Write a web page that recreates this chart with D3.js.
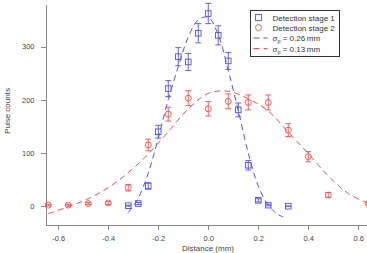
<!DOCTYPE html>
<html>
<head>
<meta charset="utf-8">
<script src="https://cdn.jsdelivr.net/npm/d3@7"></script>
<style>
  body { margin: 0; background: #fff; }
  svg { display: block; font-family: "Liberation Sans", Arial, sans-serif; }
  .axis path, .axis line { stroke: #8a8a8a; shape-rendering: crispEdges; }
  .axis text { fill: #444; font-size: 7.5px; font-family: "Liberation Sans", Arial, sans-serif; }
</style>
</head>
<body>
<svg id="chart" width="367" height="253"></svg>
<script>
// measured points, detection stage 1 (blue squares)
const stage1X = [-0.32, -0.28, -0.24, -0.20, -0.16, -0.12, -0.08, -0.04, 0.00, 0.04, 0.08, 0.12, 0.16, 0.20, 0.24, 0.32];
const stage1Y = [1, 5, 38, 140, 221, 281, 271, 325, 362, 321, 273, 181, 77, 11, 2, 0];
const stage1Err = [1, 2, 6, 12, 15, 17, 16, 18, 19, 18, 16, 13, 9, 3, 1.5, 0];

// measured points, detection stage 2 (red circles)
const stage2X = [-0.64, -0.56, -0.48, -0.40, -0.32, -0.24, -0.16, -0.08, 0.00, 0.08, 0.16, 0.24, 0.32, 0.40, 0.48, 0.64];
const stage2Y = [2, 2, 5, 6, 35, 115, 173, 203, 183, 197, 195, 195, 143, 93, 21, 5];
const stage2Err = [1.5, 1.5, 2, 2.5, 6, 11, 13, 14, 13.5, 14, 14, 14, 12, 9.5, 4.5, 2];

// fitted curves
const fit1X = [-0.32, -0.30, -0.28, -0.24, -0.20, -0.16, -0.12, -0.08, -0.04, 0.00, 0.04, 0.08, 0.12, 0.16, 0.20, 0.24, 0.28, 0.30];
const fit1Y = [-12, 0, 15, 62, 128, 200, 262, 318, 350, 355, 322, 255, 180, 100, 38, 2, -16, -20];
const fit2X = [-0.64, -0.56, -0.48, -0.40, -0.32, -0.24, -0.16, -0.08, 0.00, 0.08, 0.16, 0.24, 0.32, 0.40, 0.48, 0.56, 0.64];
const fit2Y = [-14, -1, 14, 35, 63, 98, 140, 183, 212, 216, 202, 179, 139, 99, 57, 24, 5];

const xTicks = [-0.6, -0.4, -0.2, 0.0, 0.2, 0.4, 0.6];
const yTicks = [0, 100, 200, 300];
const legendLabels = ["Detection stage 1", "Detection stage 2", ["0.26"], ["0.13"]];

const blue = "#5252e4";
const red = "#ec5050";

const svg = d3.select("#chart");

const x = d3.scaleLinear().domain([-0.651, 0.637]).range([45.5, 367.5]);
const y = d3.scaleLinear().domain([-34.4, 379]).range([224.5, 4.5]);

// axes
svg.append("g")
  .attr("class", "axis")
  .attr("transform", "translate(0,224.5)")
  .call(d3.axisBottom(x).tickValues(xTicks).tickSize(5).tickSizeOuter(0).tickPadding(6)
    .tickFormat(d => d.toFixed(1)));

svg.append("g")
  .attr("class", "axis")
  .attr("transform", "translate(45.5,0)")
  .call(d3.axisLeft(y).tickValues(yTicks).tickSize(5).tickSizeOuter(0).tickPadding(6));

svg.append("text")
  .attr("transform", "translate(9.5,111) rotate(-90)")
  .attr("text-anchor", "middle")
  .attr("font-size", "8px")
  .attr("fill", "#444")
  .text("Pulse counts");

svg.append("text")
  .attr("x", 208)
  .attr("y", 250.5)
  .attr("text-anchor", "middle")
  .attr("font-size", "8px")
  .attr("fill", "#444")
  .text("Distance (mm)");

// fit curves
const line = d3.line().x(d => x(d[0])).y(d => y(d[1])).curve(d3.curveCatmullRom);

svg.append("path")
  .datum(d3.zip(fit2X, fit2Y))
  .attr("d", line)
  .attr("fill", "none")
  .attr("stroke", red)
  .attr("stroke-width", 1)
  .attr("stroke-dasharray", "6,4");

svg.append("path")
  .datum(d3.zip(fit1X, fit1Y))
  .attr("d", line)
  .attr("fill", "none")
  .attr("stroke", blue)
  .attr("stroke-width", 1)
  .attr("stroke-dasharray", "6,4");

// error bars + markers
function drawSeries(xs, ys, errs, color, shape) {
  const g = svg.append("g").attr("stroke", color).attr("fill", "none").attr("stroke-width", 0.9);
  const pts = d3.zip(xs, ys, errs);
  const bars = g.selectAll("g.bar").data(pts).enter().append("g").attr("class", "bar");
  bars.append("line")
    .attr("x1", d => x(d[0])).attr("x2", d => x(d[0]))
    .attr("y1", d => y(d[1] - d[2])).attr("y2", d => y(d[1] + d[2]));
  bars.append("line")
    .attr("x1", d => x(d[0]) - 3).attr("x2", d => x(d[0]) + 3)
    .attr("y1", d => y(d[1] - d[2])).attr("y2", d => y(d[1] - d[2]));
  bars.append("line")
    .attr("x1", d => x(d[0]) - 3).attr("x2", d => x(d[0]) + 3)
    .attr("y1", d => y(d[1] + d[2])).attr("y2", d => y(d[1] + d[2]));
  if (shape === "square") {
    g.selectAll("rect").data(pts).enter().append("rect")
      .attr("x", d => x(d[0]) - 2.8).attr("y", d => y(d[1]) - 2.8)
      .attr("width", 5.6).attr("height", 5.6);
  } else {
    g.selectAll("circle").data(pts).enter().append("circle")
      .attr("cx", d => x(d[0])).attr("cy", d => y(d[1])).attr("r", 3);
  }
}

drawSeries(stage2X, stage2Y, stage2Err, red, "circle");
drawSeries(stage1X, stage1Y, stage1Err, blue, "square");

// legend
const lg = svg.append("g").attr("transform", "translate(250.5,10.5)");
lg.append("rect")
  .attr("width", 89).attr("height", 46)
  .attr("fill", "#fff").attr("stroke", "#333").attr("stroke-width", 1);

const rowY = [7, 17, 27.5, 38];
lg.append("rect").attr("x", 5).attr("y", rowY[0] - 3).attr("width", 6).attr("height", 6)
  .attr("fill", "none").attr("stroke", blue).attr("stroke-width", 0.9);
lg.append("circle").attr("cx", 8).attr("cy", rowY[1]).attr("r", 3)
  .attr("fill", "none").attr("stroke", red).attr("stroke-width", 0.9);
lg.append("line").attr("x1", 3).attr("x2", 17).attr("y1", rowY[2]).attr("y2", rowY[2])
  .attr("stroke", blue).attr("stroke-dasharray", "6,4");
lg.append("line").attr("x1", 3).attr("x2", 17).attr("y1", rowY[3]).attr("y2", rowY[3])
  .attr("stroke", red).attr("stroke-dasharray", "6,4");

legendLabels.forEach((lab, i) => {
  const t = lg.append("text")
    .attr("x", 22).attr("y", rowY[i] + 3)
    .attr("font-size", "8px").attr("fill", "#333");
  if (typeof lab === "string") {
    t.text(lab);
  } else {
    t.append("tspan").text("\u03c3");
    t.append("tspan").attr("font-size", "5.5px").attr("dy", 2).text("p");
    t.append("tspan").attr("dy", -2).text(" = " + lab[0] + "\u2009mm");
  }
});
</script>
</body>
</html>
